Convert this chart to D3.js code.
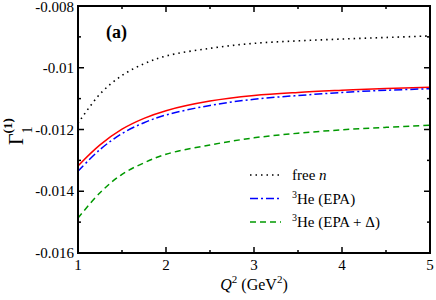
<!DOCTYPE html>
<html>
<head>
<meta charset="utf-8">
<script src="https://cdn.jsdelivr.net/npm/d3@7"></script>
<style>
  body { margin: 0; background: #fff; }
</style>
</head>
<body>
<div id="chart"></div>
<script>
// Data
var q2 = [1, 1.25, 1.5, 1.75, 2, 2.5, 3, 3.5, 4, 4.5, 5];
var freeN = [-0.0118, -0.01085, -0.01025, -0.00987, -0.00962, -0.00937, -0.00921, -0.00913, -0.00907, -0.00902, -0.00897];
var he3Solid = [-0.01318, -0.0125, -0.01199, -0.01164, -0.01139, -0.01108, -0.0109, -0.0108, -0.01073, -0.01067, -0.01063];
var he3EPA = [-0.01335, -0.01265, -0.01213, -0.01178, -0.01153, -0.01122, -0.01102, -0.0109, -0.0108, -0.01073, -0.01068];
var he3Delta = [-0.01487, -0.01405, -0.01345, -0.01308, -0.0128, -0.0125, -0.01227, -0.01212, -0.01201, -0.01193, -0.01186];

var xTicks = [1, 2, 3, 4, 5];
var yTicks = [-0.016, -0.014, -0.012, -0.01, -0.008];
var yTickLabels = ["-0.016", "-0.014", "-0.012", "-0.01", "-0.008"];

var FONT = "'Liberation Serif'";

var svgWidth = 436, svgHeight = 300;
var margin = { top: 6, right: 6, bottom: 47, left: 78 };
var width = svgWidth - margin.left - margin.right;
var height = svgHeight - margin.top - margin.bottom;

var svg = d3.select("#chart").append("svg")
  .attr("width", svgWidth)
  .attr("height", svgHeight)
  .style("font-family", FONT);

var chart = svg.append("g")
  .attr("transform", "translate(" + margin.left + "," + margin.top + ")");

var x = d3.scaleLinear().domain([1, 5]).range([0, width]);
var y = d3.scaleLinear().domain([-0.016, -0.008]).range([height, 0]);

// curves
var series = [
  { values: freeN, color: "#000", dash: "1.5,4", width: 1.6 },
  { values: he3Solid, color: "#ff0000", dash: null, width: 1.5 },
  { values: he3EPA, color: "#0000ff", dash: "8,3,2,3", width: 1.5 },
  { values: he3Delta, color: "#009900", dash: "6,4", width: 1.5 }
];

var line = d3.line()
  .x(function(d) { return x(d[0]); })
  .y(function(d) { return y(d[1]); })
  .curve(d3.curveCatmullRom);

series.forEach(function(s) {
  chart.append("path")
    .datum(q2.map(function(q, i) { return [q, s.values[i]]; }))
    .attr("fill", "none")
    .attr("stroke", s.color)
    .attr("stroke-width", s.width)
    .attr("stroke-dasharray", s.dash)
    .attr("d", line);
});

// axes with inward ticks, mirrored on top and right
var minorX = d3.range(1.5, 5, 1);
var minorY = d3.range(-0.015, -0.008, 0.002);

function tickLines(g, vals, len, horizontal) {
  vals.forEach(function(v) {
    if (horizontal) {
      g.append("line").attr("x1", x(v)).attr("x2", x(v)).attr("y1", height).attr("y2", height - len);
      g.append("line").attr("x1", x(v)).attr("x2", x(v)).attr("y1", 0).attr("y2", len);
    } else {
      g.append("line").attr("y1", y(v)).attr("y2", y(v)).attr("x1", 0).attr("x2", len);
      g.append("line").attr("y1", y(v)).attr("y2", y(v)).attr("x1", width).attr("x2", width - len);
    }
  });
}

var ticks = chart.append("g").attr("stroke", "#000").attr("stroke-width", 1.5);
tickLines(ticks, xTicks, 6, true);
tickLines(ticks, minorX, 3, true);
tickLines(ticks, yTicks, 6, false);
tickLines(ticks, minorY, 3, false);

chart.append("rect")
  .attr("width", width).attr("height", height)
  .attr("fill", "none").attr("stroke", "#000").attr("stroke-width", 2);

// tick labels
chart.selectAll(".xlab").data(xTicks).enter().append("text")
  .attr("x", function(d) { return x(d); })
  .attr("y", height + 17)
  .attr("text-anchor", "middle")
  .style("font-family", FONT)
  .attr("font-size", 15)
  .text(function(d) { return d; });

// top label nudged down a little so it is not clipped
chart.selectAll(".ylab").data(yTicks).enter().append("text")
  .attr("x", -4)
  .attr("y", function(d, i) { return y(d) + (i === yTicks.length - 1 ? 6 : 5); })
  .attr("text-anchor", "end")
  .style("font-family", FONT)
  .attr("font-size", 15)
  .text(function(d, i) { return yTickLabels[i]; });

// x axis title
var xt = svg.append("text")
  .attr("x", 254).attr("y", 290)
  .attr("text-anchor", "middle")
  .style("font-family", FONT)
  .attr("font-size", 16);
xt.append("tspan").attr("font-style", "italic").text("Q");
xt.append("tspan").attr("dy", -7).attr("font-size", 11).text("2");
xt.append("tspan").attr("dy", 7).text(" (GeV");
xt.append("tspan").attr("dy", -7).attr("font-size", 11).text("2");
xt.append("tspan").attr("dy", 7).text(")");

// y axis title: Gamma_1^(1)
var yt = svg.append("text")
  .attr("transform", "translate(23,145) rotate(-90)")
  .style("font-family", FONT)
  .attr("font-size", 20);
yt.append("tspan").text("Γ");
yt.append("tspan").attr("dy", 9).attr("font-size", 14).text("1");
yt.append("tspan").attr("dx", -7).attr("dy", -20).attr("font-size", 13).attr("font-weight", "bold").text("(1)");

// panel label
svg.append("text")
  .attr("x", 106).attr("y", 38)
  .style("font-family", FONT)
  .attr("font-size", 18).attr("font-weight", "bold")
  .text("(a)");

// legend
var legend = [
  { s: series[0], parts: [["free ", null], ["n", "italic"]] },
  { s: series[2], parts: [["3", "sup"], ["He (EPA)", null]] },
  { s: series[3], parts: [["3", "sup"], ["He (EPA + Δ)", null]] }
];
legend.forEach(function(item, i) {
  var ly = 175 + i * 23.5;
  svg.append("line")
    .attr("x1", 250).attr("x2", 281).attr("y1", ly).attr("y2", ly)
    .attr("stroke", item.s.color).attr("stroke-width", item.s.width)
    .attr("stroke-dasharray", item.s.dash);
  var t = svg.append("text").attr("x", 292).attr("y", ly + 5)
    .style("font-family", FONT).attr("font-size", 15);
  var up = false;
  item.parts.forEach(function(p) {
    var ts = t.append("tspan").text(p[0]);
    if (p[1] === "italic") ts.attr("font-style", "italic");
    if (p[1] === "sup") { ts.attr("font-size", 10).attr("dy", -6); up = true; }
    else if (up) { ts.attr("dy", 6); up = false; }
  });
});
</script>
</body>
</html>
